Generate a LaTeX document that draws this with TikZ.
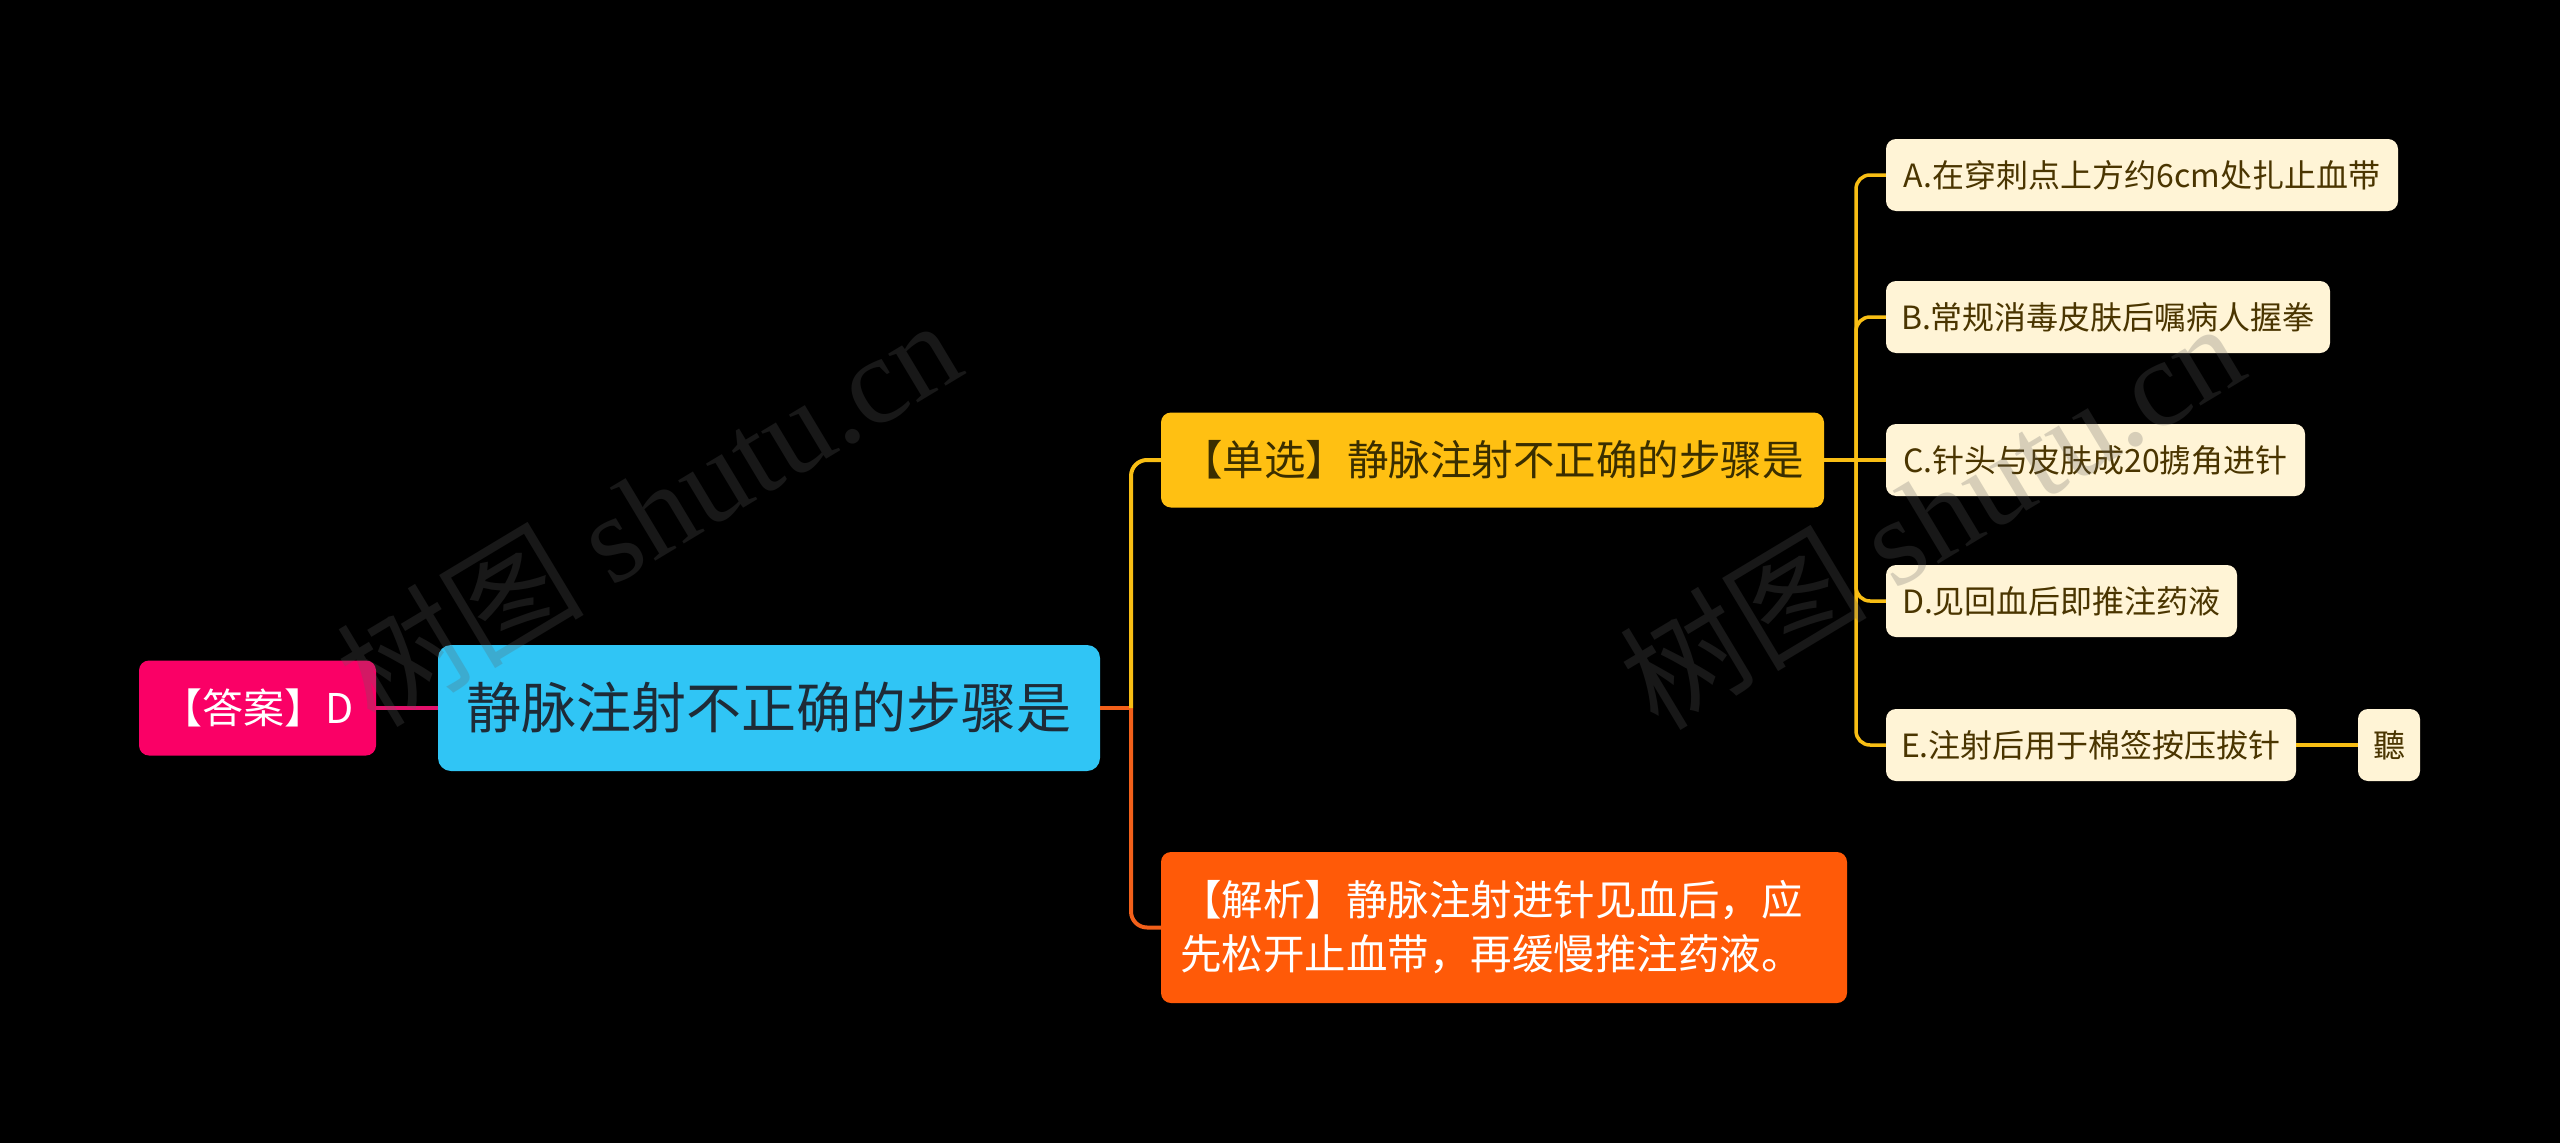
\documentclass[tikz,border=0pt]{standalone}
\usepackage{fontspec}
\setmainfont{Noto Sans CJK SC}
\newfontfamily\wmcjk{Noto Sans CJK SC}
\newfontfamily\wmlat{Liberation Serif}
\definecolor{ansfill}{HTML}{FA0066}
\definecolor{rootfill}{HTML}{30C5F5}
\definecolor{roottext}{HTML}{1E2B37}
\definecolor{dxfill}{HTML}{FFC012}
\definecolor{dxtext}{HTML}{3A2E00}
\definecolor{jxfill}{HTML}{FF5A08}
\definecolor{optfill}{HTML}{FFF4D6}
\definecolor{opttext}{HTML}{4A3500}
\definecolor{pinkc}{HTML}{E3116C}
\definecolor{yellowc}{HTML}{F8BE14}
\definecolor{orangec}{HTML}{F2601A}
\definecolor{wmc}{HTML}{606060}
\begin{document}
\begin{tikzpicture}[x=1pt,y=-1pt,
  box/.style={rounded corners=10pt, inner sep=0pt, align=center},
  ansbox/.style={box, fill=ansfill, text=white, font=\fontsize{41}{49}\selectfont,
    minimum width=237pt, minimum height=95pt},
  rootbox/.style={box, rounded corners=13pt, fill=rootfill, text=roottext,
    font=\fontsize{55}{66}\selectfont, minimum width=662pt, minimum height=126pt},
  dxbox/.style={box, fill=dxfill, text=dxtext, font=\fontsize{41.5}{50}\selectfont,
    minimum width=663pt, minimum height=95pt},
  jxbox/.style={rounded corners=10pt, fill=jxfill, text=white,
    font=\fontsize{41.5}{54}\selectfont, inner xsep=19pt, inner ysep=0pt,
    text width=648pt, align=left, minimum height=151pt},
  optbox/.style={box, fill=optfill, text=opttext, font=\fontsize{32}{38}\selectfont,
    minimum height=72pt},
  pinkline/.style={draw=pinkc, line width=4pt},
  orangeline/.style={draw=orangec, line width=4pt},
  yellowline/.style={draw=yellowc, line width=4pt},
  optline/.style={draw=yellowc, line width=3.5pt},
  wm/.style={text=wmc, opacity=0.25, inner sep=0pt}
]
\fill[black] (0,0) rectangle (2560,1143);
\useasboundingbox (0,0) rectangle (2560,1143);

\node[ansbox] (ans) at (257.5,708) {【答案】D};
\node[rootbox] (root) at (769,708) {静脉注射不正确的步骤是};
\node[dxbox] (dx) at (1492.5,460) {【单选】静脉注射不正确的步骤是};
\node[jxbox] (jx) at (1504,927.5) {【解析】静脉注射进针见血后，应\\先松开止血带，再缓慢推注药液。};

\node[optbox, minimum width=512pt] (A) at (2142,175) {A.在穿刺点上方约6cm处扎止血带};
\node[optbox, minimum width=444pt] (B) at (2108,317) {B.常规消毒皮肤后嘱病人握拳};
\node[optbox, minimum width=419pt] (C) at (2095.5,460) {C.针头与皮肤成20掳角进针};
\node[optbox, minimum width=351pt] (D) at (2061.5,601) {D.见回血后即推注药液};
\node[optbox, minimum width=410pt] (E) at (2091,745) {E.注射后用于棉签按压拔针};
\node[optbox, minimum width=62pt] (ting) at (2389,745) {聽};

\coordinate (j1) at (1131,708);
\coordinate (j2) at (1856,460);

\draw[pinkline] (ans.east) -- (root.west);
\draw[orangeline] (root.east) -- (j1);
\draw[orangeline, rounded corners=16pt] (j1) |- (jx.west);
\draw[yellowline, rounded corners=16pt] (j1) |- (dx.west);
\draw[yellowline] (dx.east) -- (j2);
\draw[optline, rounded corners=14pt] (j2) |- (A.west);
\draw[optline, rounded corners=14pt] (j2) |- (B.west);
\draw[optline] (j2) -- (C.west);
\draw[optline, rounded corners=14pt] (j2) |- (D.west);
\draw[optline, rounded corners=14pt] (j2) |- (E.west);
\draw[optline] (E.east) -- (ting.west);

\node[wm, rotate=31] (wm1) at (648,511) {\fontsize{124}{130}\selectfont{\wmcjk 树图} {\wmlat shutu.cn}};
\node[wm, rotate=31] (wm2) at (1931,514) {\fontsize{124}{130}\selectfont{\wmcjk 树图} {\wmlat shutu.cn}};
\end{tikzpicture}
\end{document}
